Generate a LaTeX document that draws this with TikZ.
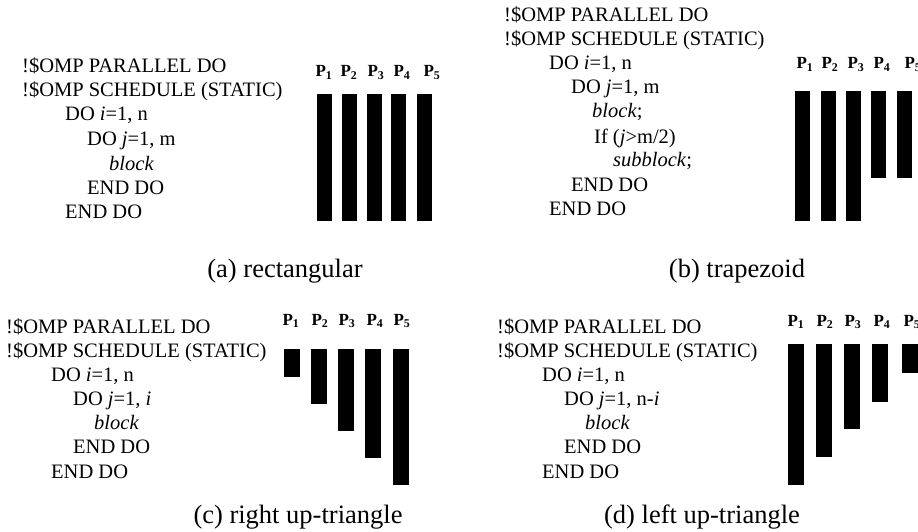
\documentclass[tikz,border=0pt]{standalone}
\usepackage{fontspec}
\setmainfont{Liberation Serif}
\tikzset{
  code/.style={anchor=base west,inner sep=0pt,font=\fontsize{20.5}{24}\selectfont},
  plabel/.style={anchor=base,inner sep=0pt,font=\fontsize{17}{20}\selectfont\bfseries},
  subcap/.style={anchor=base,inner sep=0pt,font=\fontsize{26.5}{32}\selectfont},
  bar/.style={fill=black}
}
\begin{document}
\begin{tikzpicture}[x=1pt,y=-1pt]
  \useasboundingbox (0,0) rectangle (918,532);
  % (a) rectangular
  \node[code] (a1) at (22,73) {!\$OMP PARALLEL DO};
  \node[code] (a2) at (22,97) {!\$OMP SCHEDULE (STATIC)};
  \node[code] (a3) at (65,121) {DO \textit{i}=1, n};
  \node[code] (a4) at (87,146) {DO \textit{j}=1, m};
  \node[code] (a5) at (109,170) {\textit{block}};
  \node[code] (a6) at (87,194) {END DO};
  \node[code] (a7) at (65,218) {END DO};
  \foreach \x in {317,342,367,391,417}
    \fill[bar] (\x,94) rectangle ++(15,127);
  \foreach \x/\n in {324/1,349/2,376/3,402/4,432/5}
    \node[plabel] (pa\n) at (\x,77) {P\textsubscript{\n}};
  \node[subcap] (capa) at (285,277) {(a) rectangular};
  % (b) trapezoid
  \node[code] (b1) at (504,22) {!\$OMP PARALLEL DO};
  \node[code] (b2) at (504,46) {!\$OMP SCHEDULE (STATIC)};
  \node[code] (b3) at (549,70) {DO \textit{i}=1, n};
  \node[code] (b4) at (571,94) {DO \textit{j}=1, m};
  \node[code] (b5) at (592,118) {\textit{block};};
  \node[code] (b6) at (594,143) {If (\textit{j}>m/2)};
  \node[code] (b7) at (613,167) {\textit{subblock};};
  \node[code] (b8) at (571,191) {END DO};
  \node[code] (b9) at (549,215) {END DO};
  \foreach \x/\y in {795/221,821/221,846/221,871/178,897/178}
    \fill[bar] (\x,91) rectangle (\x+15,\y);
  \foreach \x/\n in {805/1,830/2,856/3,882/4,913/5}
    \node[plabel] (pb\n) at (\x,69) {P\textsubscript{\n}};
  \node[subcap] (capb) at (737,277) {(b) trapezoid};
  % (c) right up-triangle
  \node[code] (c1) at (6,333) {!\$OMP PARALLEL DO};
  \node[code] (c2) at (6,357) {!\$OMP SCHEDULE (STATIC)};
  \node[code] (c3) at (51,381) {DO \textit{i}=1, n};
  \node[code] (c4) at (73,405) {DO \textit{j}=1, \textit{i}};
  \node[code] (c5) at (94,429) {\textit{block}};
  \node[code] (c6) at (73,453) {END DO};
  \node[code] (c7) at (51,478) {END DO};
  \foreach \x/\y in {284/377,311/404,338/431,365/458,393/485}
    \fill[bar] (\x,349) rectangle (\x+15.5,\y);
  \foreach \x/\n in {291/1,320/2,347/3,375/4,402/5}
    \node[plabel] (pc\n) at (\x,325) {P\textsubscript{\n}};
  \node[subcap] (capc) at (298,523) {(c) right up-triangle};
  % (d) left up-triangle
  \node[code] (d1) at (497,333) {!\$OMP PARALLEL DO};
  \node[code] (d2) at (497,357) {!\$OMP SCHEDULE (STATIC)};
  \node[code] (d3) at (542,381) {DO \textit{i}=1, n};
  \node[code] (d4) at (564,405) {DO \textit{j}=1, n-\textit{i}};
  \node[code] (d5) at (585,429) {\textit{block}};
  \node[code] (d6) at (564,453) {END DO};
  \node[code] (d7) at (542,478) {END DO};
  \foreach \x/\y in {788/485,816/457,844/429,872/402,902/373}
    \fill[bar] (\x,344) rectangle (\x+15.5,\y);
  \foreach \x/\n in {796/1,825/2,853/3,882/4,912/5}
    \node[plabel] (pd\n) at (\x,326) {P\textsubscript{\n}};
  \node[subcap] (capd) at (702,523) {(d) left up-triangle};
\end{tikzpicture}
\end{document}
